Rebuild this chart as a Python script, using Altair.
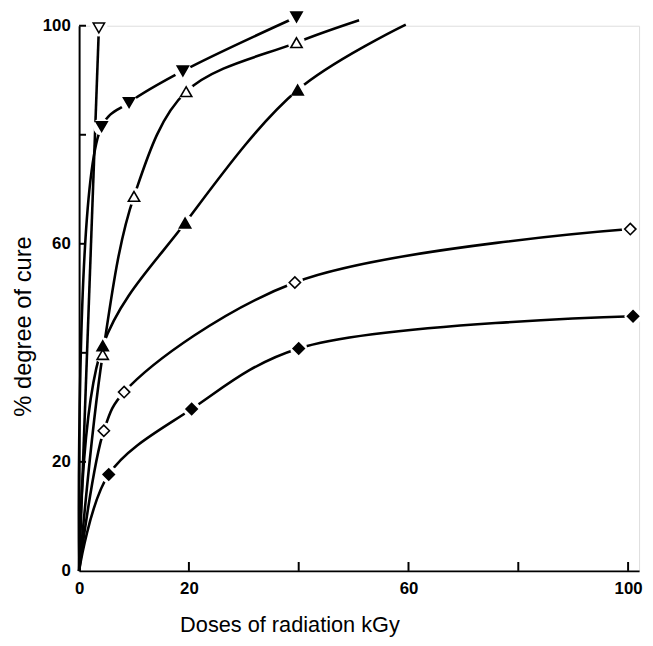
import altair as alt
import pandas as pd

# ---- data (dose kGy, % degree of cure) ----
open_down_x = [3.6]
open_down_y = [99.6]

filled_down_x = [4.1, 9.1, 18.9, 39.6]
filled_down_y = [81.5, 85.9, 91.7, 101.6]

open_up_x = [4.3, 10.0, 19.5, 39.6]
open_up_y = [39.7, 68.7, 87.9, 96.9]
open_up_end = [(51.0, 101.0)]

filled_up_x = [4.3, 19.3, 39.8]
filled_up_y = [41.3, 63.8, 88.2]
filled_up_end = [(59.5, 100.2)]

open_diamond_x = [4.5, 8.2, 39.3, 100.4]
open_diamond_y = [25.7, 32.8, 52.9, 62.7]

filled_diamond_x = [5.4, 20.5, 40.0, 100.9]
filled_diamond_y = [17.7, 29.7, 40.8, 46.7]

axis_ticks = [0, 20, 40, 60, 80, 100]
inner_ticks = [20, 40, 60, 80, 100]

series = [
    ("open_down", open_down_x, open_down_y, []),
    ("filled_down", filled_down_x, filled_down_y, []),
    ("open_up", open_up_x, open_up_y, open_up_end),
    ("filled_up", filled_up_x, filled_up_y, filled_up_end),
    ("open_diamond", open_diamond_x, open_diamond_y, []),
    ("filled_diamond", filled_diamond_x, filled_diamond_y, []),
]

# marker styles (kept apart from the data)
shape_of = {
    "open_down": "triangle-down", "filled_down": "triangle-down",
    "open_up": "triangle-up", "filled_up": "triangle-up",
    "open_diamond": "diamond", "filled_diamond": "diamond",
}
fill_of = {
    "open_down": "white", "filled_down": "black",
    "open_up": "white", "filled_up": "black",
    "open_diamond": "white", "filled_diamond": "black",
}

line_rows, pt_rows = [], []
for name, xs, ys, ext in series:
    pts = [(0.0, 0.0)] + list(zip(xs, ys)) + list(ext)
    for i, (x, y) in enumerate(pts):
        line_rows.append({"series": name, "x": x, "y": y, "o": i})
    for x, y in zip(xs, ys):
        pt_rows.append({"series": name, "x": x, "y": y,
                        "shape": shape_of[name], "fill": fill_of[name]})

lines_df = pd.DataFrame(line_rows)
pts_df = pd.DataFrame(pt_rows)
yt_df = pd.DataFrame({"y": inner_ticks})
xt_df = pd.DataFrame({"x": inner_ticks})

FONT = "Liberation Sans"
label_expr = "datum.value == 40 || datum.value == 80 ? '' : datum.label"

xscale = alt.Scale(domain=[0, 102], nice=False, zero=False)
yscale = alt.Scale(domain=[0, 100], nice=False, zero=False)

xaxis = alt.Axis(
    values=axis_ticks, labelExpr=label_expr, ticks=False, grid=False,
    domainColor="black", domainWidth=2,
    labelFont=FONT, labelFontWeight="bold", labelFontSize=17, labelColor="black",
    labelPadding=10, labelFlush=False,
    title="Doses of radiation kGy", titleFont=FONT, titleFontSize=22,
    titleFontWeight="normal", titleColor="black",
    titleX=213, titleY=61, titleBaseline="alphabetic",
)
yaxis = alt.Axis(
    values=axis_ticks, labelExpr=label_expr, ticks=False, grid=False,
    domainColor="black", domainWidth=2,
    labelFont=FONT, labelFontWeight="bold", labelFontSize=17, labelColor="black",
    labelPadding=9, labelFlush=False,
    title="% degree of cure", titleFont=FONT, titleFontSize=24,
    titleFontWeight="normal", titleColor="black",
    titleX=-49, titleY=304, titleBaseline="alphabetic",
)

X = alt.X("x:Q", scale=xscale, axis=xaxis)
Y = alt.Y("y:Q", scale=yscale, axis=yaxis)

lines = alt.Chart(lines_df).mark_line(
    interpolate="catmull-rom", color="black", strokeWidth=2.6, clip=False
).encode(x=X, y=Y, detail="series:N", order="o:Q")

halos = alt.Chart(pts_df).mark_point(
    shape="circle", filled=True, color="white", opacity=1, size=300, clip=False
).encode(x=X, y=Y)

markers = alt.Chart(pts_df).mark_point(
    filled=True, opacity=1, size=130, stroke="black", strokeWidth=1.6, clip=False
).encode(
    x=X, y=Y,
    shape=alt.Shape("shape:N", scale=None),
    fill=alt.Fill("fill:N", scale=None),
)

ytick_rules = alt.Chart(yt_df).mark_rule(color="black", strokeWidth=2).encode(
    y=Y, x=alt.value(0), x2=alt.value(7)
)
xtick_rules = alt.Chart(xt_df).mark_rule(color="black", strokeWidth=2).encode(
    x=X, y=alt.value(552), y2=alt.value(543)
)

chart = alt.layer(lines, halos, markers, ytick_rules, xtick_rules).properties(
    width=567, height=552,
    autosize=alt.AutoSizeParams(type="none"),
    padding={"left": 72, "top": 14, "right": 6, "bottom": 64},
).configure_view(stroke=None).configure(background="white")

chart.save("out.html", embed_options={"renderer": "svg", "actions": False})
